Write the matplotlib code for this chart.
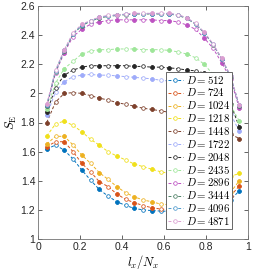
import numpy as np
import matplotlib
matplotlib.use("Agg")
import matplotlib.pyplot as plt

plt.rcParams['mathtext.fontset'] = 'cm'
plt.rcParams['font.family'] = ['Liberation Sans', 'DejaVu Sans']

k = np.arange(1, 24)
x = k / 24.0

D_labels = [512, 724, 1024, 1218, 1448, 1722, 2048, 2435, 2896, 3444, 4096, 4871]

S_512 = [1.618, 1.645, 1.61, 1.55, 1.474, 1.405, 1.34, 1.295, 1.256, 1.231, 1.21, 1.20,
         1.195, 1.192, 1.19, 1.19, 1.19, 1.19, 1.195, 1.205, 1.225, 1.27, 1.33]
S_724 = [1.634, 1.668, 1.668, 1.60, 1.52, 1.462, 1.394, 1.36, 1.31, 1.272, 1.25, 1.23,
         1.215, 1.206, 1.20, 1.20, 1.20, 1.205, 1.21, 1.22, 1.245, 1.295, 1.364]
S_1024 = [1.652, 1.705, 1.705, 1.646, 1.577, 1.52, 1.456, 1.41, 1.36, 1.318, 1.29, 1.268,
          1.256, 1.24, 1.235, 1.23, 1.23, 1.235, 1.24, 1.25, 1.27, 1.32, 1.40]
S_1218 = [1.707, 1.79, 1.81, 1.78, 1.737, 1.685, 1.645, 1.60, 1.57, 1.543, 1.515, 1.497,
          1.479, 1.462, 1.45, 1.44, 1.43, 1.42, 1.415, 1.41, 1.415, 1.43, 1.45]
S_1448 = [1.80, 1.94, 2.00, 2.005, 2.00, 1.985, 1.967, 1.955, 1.937, 1.925, 1.912, 1.898,
          1.89, 1.88, 1.87, 1.86, 1.85, 1.84, 1.825, 1.81, 1.78, 1.72, 1.69]
S_1722 = [1.85, 2.01, 2.08, 2.115, 2.125, 2.13, 2.125, 2.125, 2.12, 2.115, 2.11, 2.105,
          2.10, 2.09, 2.085, 2.075, 2.06, 2.04, 2.02, 1.99, 1.94, 1.86, 1.74]
S_2048 = [1.87, 2.04, 2.125, 2.16, 2.18, 2.19, 2.19, 2.19, 2.19, 2.19, 2.185, 2.185,
          2.18, 2.18, 2.175, 2.17, 2.16, 2.155, 2.14, 2.11, 2.05, 1.93, 1.77]
S_2435 = [1.89, 2.07, 2.17, 2.22, 2.27, 2.29, 2.30, 2.30, 2.305, 2.305, 2.305, 2.30,
          2.30, 2.30, 2.295, 2.285, 2.27, 2.245, 2.20, 2.13, 2.03, 1.92, 1.81]
S_2896 = [1.91, 2.14, 2.28, 2.39, 2.44, 2.475, 2.49, 2.50, 2.505, 2.505, 2.505, 2.505,
          2.505, 2.50, 2.50, 2.49, 2.47, 2.44, 2.38, 2.31, 2.21, 2.10, 1.90]
S_3444 = [1.915, 2.15, 2.29, 2.405, 2.465, 2.495, 2.518, 2.528, 2.535, 2.54, 2.545, 2.545,
          2.545, 2.545, 2.545, 2.535, 2.515, 2.475, 2.415, 2.335, 2.235, 2.115, 1.915]
S_4096 = [1.92, 2.155, 2.295, 2.41, 2.47, 2.498, 2.522, 2.532, 2.538, 2.543, 2.548, 2.548,
          2.548, 2.548, 2.548, 2.538, 2.518, 2.478, 2.418, 2.338, 2.238, 2.118, 1.918]
S_4871 = [1.925, 2.16, 2.30, 2.415, 2.475, 2.50, 2.525, 2.535, 2.54, 2.545, 2.55, 2.55,
          2.55, 2.55, 2.55, 2.54, 2.52, 2.48, 2.42, 2.34, 2.24, 2.12, 1.92]

series = [S_512, S_724, S_1024, S_1218, S_1448, S_1722, S_2048, S_2435, S_2896,
          S_3444, S_4096, S_4871]

colors = [(0.0, 0.447, 0.741), (0.85, 0.325, 0.098), (0.929, 0.694, 0.125),
          (0.94, 0.88, 0.1), (0.49, 0.25, 0.17), (0.62, 0.67, 0.98),
          (0.15, 0.15, 0.15), (0.62, 0.9, 0.6), (0.74, 0.32, 0.76),
          (0.30, 0.50, 0.40), (0.30, 0.60, 0.80), (0.86, 0.62, 0.82)]

xticks = [0, 0.2, 0.4, 0.6, 0.8, 1]
xticklabels = ['0', '0.2', '0.4', '0.6', '0.8', '1']
yticks = [1, 1.2, 1.4, 1.6, 1.8, 2, 2.2, 2.4, 2.6]
yticklabels = ['1', '1.2', '1.4', '1.6', '1.8', '2', '2.2', '2.4', '2.6']

fig = plt.figure(figsize=(2.54, 2.74), dpi=100)
ax = fig.add_axes([38/254, 1-239/274, 210/254, 233/274])

filled_idx = list(range(0, 23, 2))
for D, S, c in zip(D_labels, series, colors):
    ax.plot(x, S, ls=(0, (3, 2)), lw=0.7, color=c, marker='o', ms=2.6,
            mfc='white', mec=c, mew=0.55, label=r'$D = %d$' % D)
    ax.plot(x[filled_idx], np.array(S)[filled_idx], ls='none', marker='o', ms=2.6,
            mfc=c, mec=c, mew=0.5)

ax.set_xlim(0, 1)
ax.set_ylim(1, 2.6)
ax.set_xticks(xticks)
ax.set_xticklabels(xticklabels)
ax.set_yticks(yticks)
ax.set_yticklabels(yticklabels)
ax.tick_params(direction='in', top=True, right=True, length=3, width=0.5,
               labelsize=7.5, colors='0.15', pad=2)
for sp in ax.spines.values():
    sp.set_color('0.45')
    sp.set_linewidth(0.6)

ax.set_xlabel(r'$l_x/N_x$', fontsize=9, labelpad=1)
ax.set_ylabel(r'$S_\mathrm{E}$', fontsize=9, labelpad=1)

leg = ax.legend(loc='upper left', bbox_to_anchor=(0.61, 0.717), borderaxespad=0,
                fontsize=7.8, handlelength=1.4, handletextpad=0.3, labelspacing=0.08,
                borderpad=0.15, fancybox=False, framealpha=1, edgecolor='0.3')
leg.get_frame().set_linewidth(0.6)

fig.savefig('out.png', dpi=100)
